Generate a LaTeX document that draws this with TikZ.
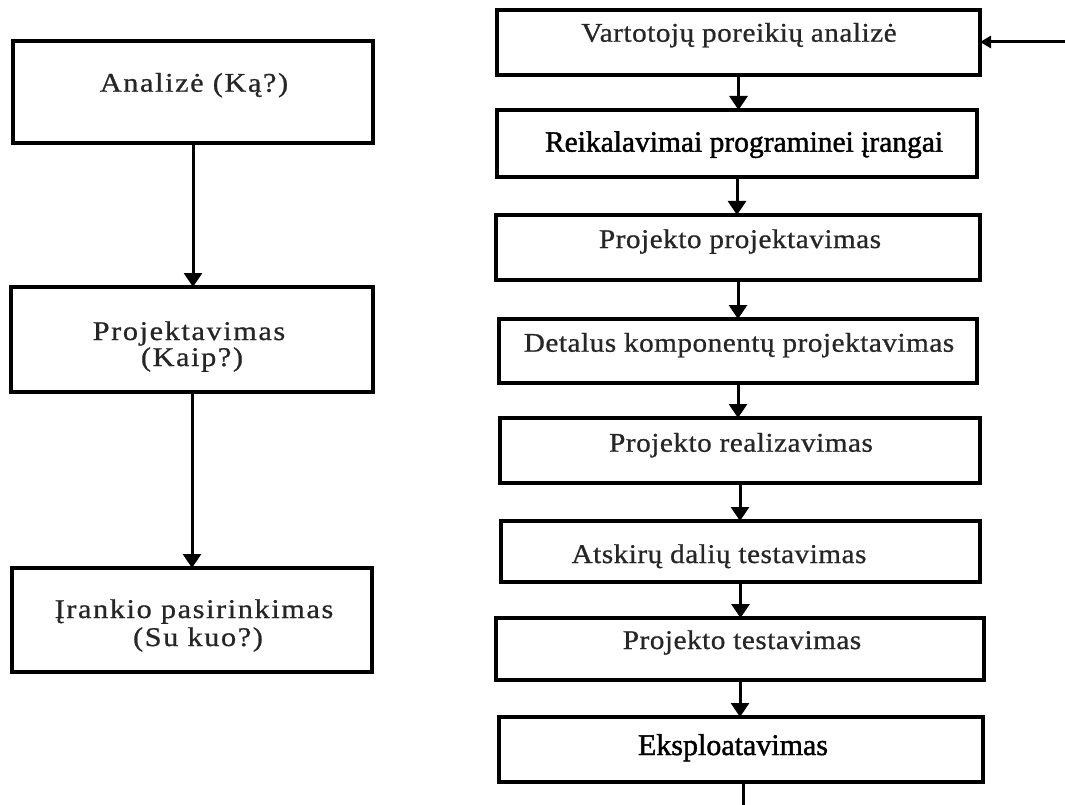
\documentclass[tikz,border=0pt]{standalone}
\usepackage{fontspec}
\setmainfont{Liberation Serif}
\newfontfamily\wideA{Liberation Serif}[FakeStretch=1.12,LetterSpace=6,FakeBold=0.8]
\newfontfamily\wideB{Liberation Serif}[FakeStretch=1.08,LetterSpace=2,FakeBold=0.8]
\newfontfamily\darkC{Liberation Serif}[FakeBold=1.4]
\usetikzlibrary{arrows.meta}
\begin{document}
\begin{tikzpicture}[x=1pt,y=-1pt,
  box/.style={draw=black,line width=3.6pt,minimum width=#1,inner sep=0pt,outer sep=0pt},
  lbl/.style={anchor=base,inner sep=0pt,text=black!85,font=\fontsize{27}{30}\selectfont\wideA},
  rlbl/.style={anchor=base,inner sep=0pt,text=black!85,font=\fontsize{27}{30}\selectfont\wideB},
  blbl/.style={anchor=base,inner sep=0pt,font=\fontsize{29.5}{32}\selectfont\darkC},
  conn/.style={line width=3pt,-{Triangle[length=14pt,width=18pt]}},
  sconn/.style={line width=3pt,-{Triangle[length=11pt,width=12pt]}}]
\useasboundingbox (0,0) rectangle (1065,805);
\fill[white] (0,0) rectangle (1065,805);
% left column
\node[box=360pt,minimum height=102pt] (L1) at (193,92) {};
\node[box=362pt,minimum height=105pt] (L2) at (192,339.5) {};
\node[box=360pt,minimum height=104pt] (L3) at (192,620) {};
\node[lbl] (t1) at (194,91.7) {Analizė (Ką?)};
\node[lbl] (t2a) at (189,340) {Projektavimas};
\node[lbl] (t2b) at (192,366) {(Kaip?)};
\node[lbl] (t3a) at (194,618) {Įrankio pasirinkimas};
\node[lbl] (t3b) at (198,646) {(Su kuo?)};
\draw[conn] (L1.south) -- (L1.south |- L2.north);
\draw[conn] (L2.south) -- (L2.south |- L3.north);
% right column
\node[box=483pt,minimum height=65pt] (R1) at (738.5,42.5) {};
\node[box=480pt,minimum height=67pt] (R2) at (737,143.5) {};
\node[box=484pt,minimum height=65pt] (R3) at (738,247.5) {};
\node[box=478pt,minimum height=64pt] (R4) at (738,351) {};
\node[box=480pt,minimum height=65pt] (R5) at (740,450.5) {};
\node[box=479pt,minimum height=61pt] (R6) at (740.5,551.5) {};
\node[box=488pt,minimum height=62pt] (R7) at (740,649) {};
\node[box=484pt,minimum height=65pt] (R8) at (741,749.5) {};
\node[rlbl] (s1) at (739,41.7) {Vartotojų poreikių analizė};
\node[blbl] (s2) at (744,151.7) {Reikalavimai programinei įrangai};
\node[rlbl] (s3) at (740,248) {Projekto projektavimas};
\node[rlbl] (s4) at (739,351.7) {Detalus komponentų projektavimas};
\node[rlbl] (s5) at (741,451.7) {Projekto realizavimas};
\node[rlbl] (s6) at (719,563) {Atskirų dalių testavimas};
\node[rlbl] (s7) at (742,649) {Projekto testavimas};
\node[blbl,font=\fontsize{30}{32}\selectfont\darkC] (s8) at (733,755) {Eksploatavimas};
\draw[conn] (R1.south) -- (R1.south |- R2.north);
\draw[conn] (R2.south) -- (R2.south |- R3.north);
\draw[conn] (R3.south) -- (R3.south |- R4.north);
\draw[conn] (R4.south) -- (R4.south |- R5.north);
\draw[conn] (R5.south) -- (R5.south |- R6.north);
\draw[conn] (R6.south) -- (R6.south |- R7.north);
\draw[conn] (R7.south) -- (R7.south |- R8.north);
\coordinate (inR) at (1065,42);
\coordinate (outB) at (743,805);
\draw[sconn] (inR) -- (inR -| R1.east);
\draw[line width=3pt] (R8.south -| outB) -- (outB);
\end{tikzpicture}
\end{document}
